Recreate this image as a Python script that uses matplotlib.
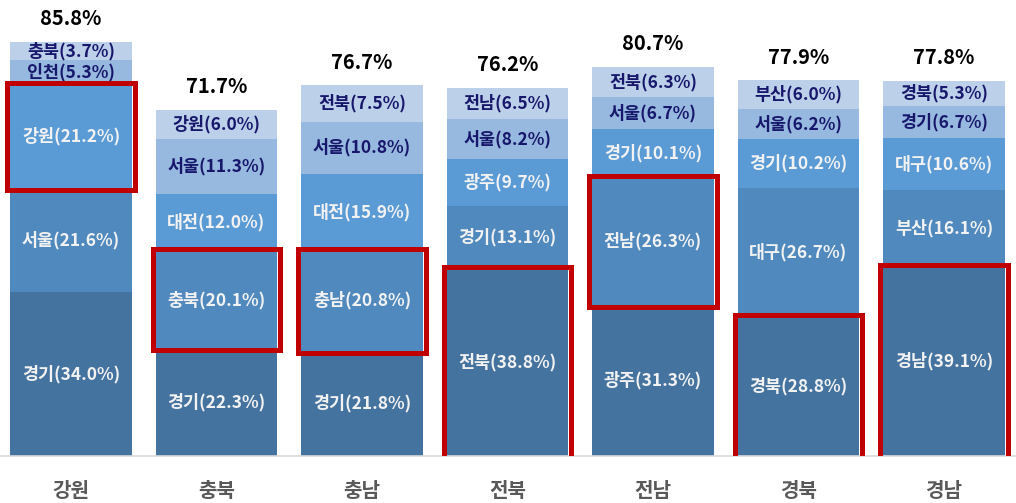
import numpy as np
import matplotlib.pyplot as plt
from matplotlib.patches import Rectangle

plt.rcParams['font.family'] = ['Noto Sans CJK KR', 'DejaVu Sans']

regions = ["강원", "충북", "충남", "전북", "전남", "경북", "경남"]
totals = ["85.8%", "71.7%", "76.7%", "76.2%", "80.7%", "77.9%", "77.8%"]

# segments from bottom to top: (name, value)
seg_names = [
    ["경기", "서울", "강원", "인천", "충북"],
    ["경기", "충북", "대전", "서울", "강원"],
    ["경기", "충남", "대전", "서울", "전북"],
    ["전북", "경기", "광주", "서울", "전남"],
    ["광주", "전남", "경기", "서울", "전북"],
    ["경북", "대구", "경기", "서울", "부산"],
    ["경남", "부산", "대구", "경기", "경북"],
]
seg_values = [
    [34.0, 21.6, 21.2, 5.3, 3.7],
    [22.3, 20.1, 12.0, 11.3, 6.0],
    [21.8, 20.8, 15.9, 10.8, 7.5],
    [38.8, 13.1, 9.7, 8.2, 6.5],
    [31.3, 26.3, 10.1, 6.7, 6.3],
    [28.8, 26.7, 10.2, 6.2, 6.0],
    [39.1, 16.1, 10.6, 6.7, 5.3],
]
boxed = [2, 1, 1, 0, 1, 0, 0]

colors = ["#44739F", "#4F89BD", "#5B9BD5", "#97B8DF", "#BDD0EA"]
text_colors = ["#F2F2F2", "#F2F2F2", "#F2F2F2", "#17186B", "#17186B"]

fig = plt.figure(figsize=(10.16, 5.03), dpi=100)
ax = fig.add_axes([0, 0.0934, 1, 0.9066])

x = np.arange(len(regions))
width = 0.835
vals = np.array(seg_values)
bottoms = np.zeros(len(regions))
for j in range(5):
    ax.bar(x, vals[:, j], width, bottom=bottoms, color=colors[j], zorder=2)
    for i in range(len(regions)):
        ax.text(x[i], bottoms[i] + vals[i, j] / 2,
                f"{seg_names[i][j]}({vals[i, j]:.1f}%)",
                ha="center", va="center", fontsize=12.5, fontweight="bold",
                color=text_colors[j], zorder=4)
    bottoms += vals[:, j]

for i in range(len(regions)):
    b = boxed[i]
    y0 = vals[i, :b].sum()
    h = vals[i, b]
    pad = 0.02
    ax.add_patch(Rectangle((x[i] - width / 2 - pad, y0 - 0.4), width + 2 * pad, h + 0.8,
                           fill=False, edgecolor="#C00000", linewidth=3.6, zorder=3))
    ax.text(x[i], bottoms[i] + 2.6, totals[i], ha="center", va="bottom",
            fontsize=14.5, fontweight="bold", color="black")

ax.set_xlim(-0.488, 6.495)
ax.set_ylim(0, 94.5)
ax.set_yticks([])
ax.set_xticks(x)
ax.set_xticklabels(regions, fontsize=14.5, fontweight="bold", color="#595959")
ax.tick_params(axis="x", length=0, pad=17)
for s in ["top", "right", "left"]:
    ax.spines[s].set_visible(False)
ax.spines["bottom"].set_color("#D9D9D9")
ax.spines["bottom"].set_linewidth(1.2)

fig.savefig("out.png", dpi=100)
